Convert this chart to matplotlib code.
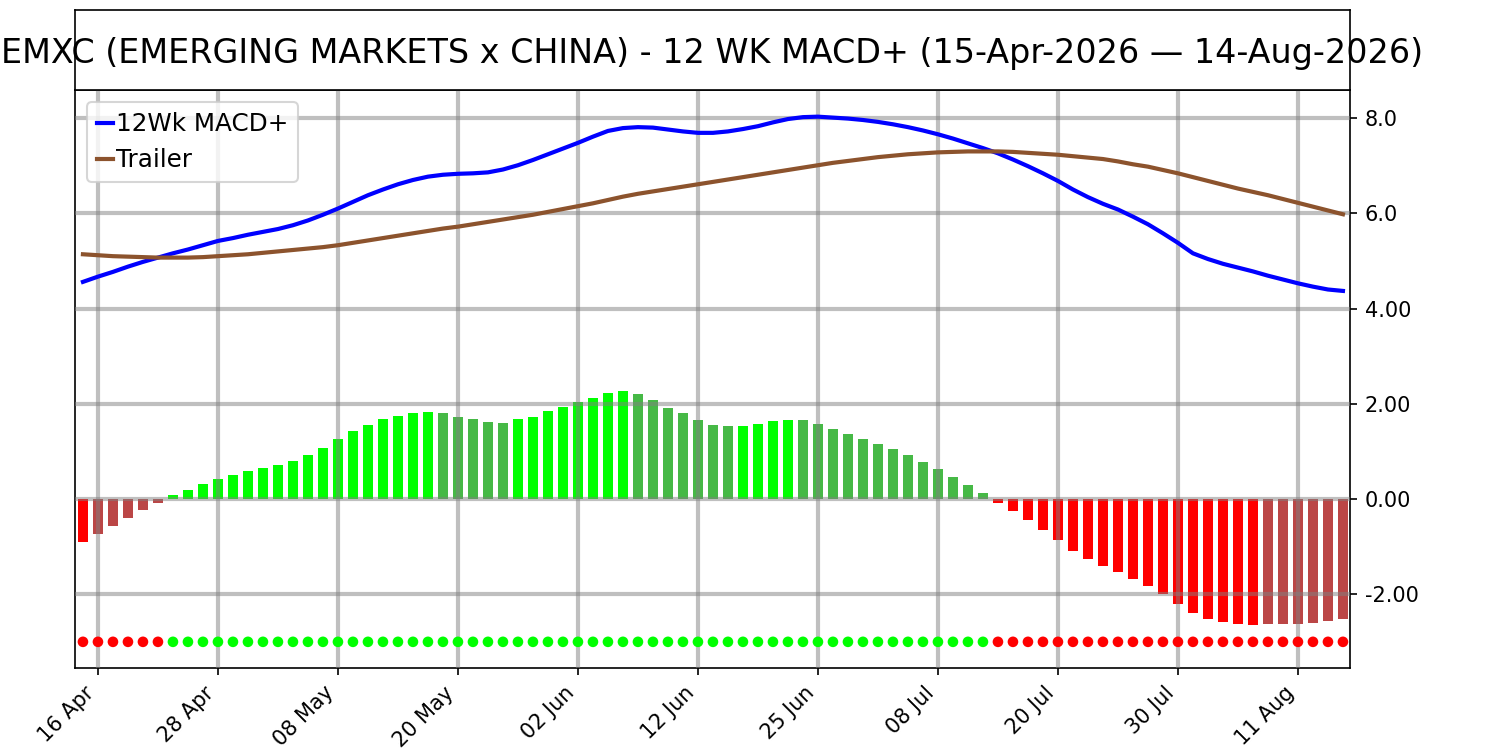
import matplotlib
matplotlib.use("Agg")
import matplotlib.pyplot as plt
import numpy as np

title = "EMXC (EMERGING MARKETS x CHINA) - 12 WK MACD+ (15-Apr-2026 \u2014 14-Aug-2026)"

macd = [4.56, 4.67, 4.77, 4.88, 4.98, 5.07, 5.16, 5.24, 5.33, 5.42,
        5.48, 5.55, 5.61, 5.67, 5.75, 5.85, 5.97, 6.10, 6.24, 6.38,
        6.50, 6.61, 6.70, 6.77, 6.81, 6.83, 6.84, 6.86, 6.92, 7.01,
        7.12, 7.24, 7.36, 7.48, 7.61, 7.73, 7.79, 7.81, 7.80, 7.76,
        7.72, 7.69, 7.69, 7.72, 7.77, 7.83, 7.91, 7.98, 8.02, 8.03,
        8.01, 7.99, 7.96, 7.92, 7.87, 7.81, 7.74, 7.66, 7.57, 7.47,
        7.37, 7.26, 7.13, 6.99, 6.84, 6.68, 6.50, 6.34, 6.20, 6.08,
        5.93, 5.77, 5.58, 5.38, 5.16, 5.04, 4.94, 4.86, 4.78, 4.69,
        4.61, 4.53, 4.46, 4.40, 4.37]

trailer = [5.14, 5.12, 5.10, 5.09, 5.08, 5.07, 5.07, 5.07, 5.08, 5.10,
           5.12, 5.14, 5.17, 5.20, 5.23, 5.26, 5.29, 5.33, 5.38, 5.43,
           5.48, 5.53, 5.58, 5.63, 5.68, 5.72, 5.77, 5.82, 5.87, 5.92,
           5.97, 6.03, 6.09, 6.15, 6.21, 6.28, 6.35, 6.41, 6.46, 6.51,
           6.56, 6.61, 6.66, 6.71, 6.76, 6.81, 6.86, 6.91, 6.96, 7.01,
           7.06, 7.10, 7.14, 7.18, 7.21, 7.24, 7.26, 7.28, 7.29, 7.30,
           7.30, 7.30, 7.29, 7.27, 7.25, 7.23, 7.20, 7.17, 7.14, 7.09,
           7.03, 6.98, 6.91, 6.84, 6.76, 6.68, 6.60, 6.52, 6.45, 6.38,
           6.30, 6.22, 6.14, 6.06, 5.98]

hist = [-0.90, -0.73, -0.56, -0.39, -0.23, -0.08, 0.085, 0.19, 0.32, 0.42,
        0.51, 0.59, 0.65, 0.72, 0.80, 0.93, 1.08, 1.25, 1.42, 1.56,
        1.67, 1.75, 1.80, 1.82, 1.80, 1.73, 1.67, 1.61, 1.60, 1.67,
        1.73, 1.84, 1.94, 2.03, 2.13, 2.22, 2.26, 2.20, 2.07, 1.92,
        1.80, 1.65, 1.56, 1.53, 1.54, 1.58, 1.63, 1.655, 1.65, 1.58,
        1.48, 1.37, 1.27, 1.16, 1.06, 0.93, 0.78, 0.63, 0.46, 0.30,
        0.13, -0.08, -0.25, -0.44, -0.65, -0.86, -1.09, -1.26, -1.41, -1.54,
        -1.68, -1.83, -2.00, -2.20, -2.40, -2.53, -2.59, -2.62, -2.64, -2.635,
        -2.63, -2.625, -2.60, -2.57, -2.51]

x_tick_labels = ["16 Apr", "28 Apr", "08 May", "20 May", "02 Jun", "12 Jun",
                 "25 Jun", "08 Jul", "20 Jul", "30 Jul", "11 Aug"]
y_ticks = [-2, 0, 2, 4, 6, 8]
y_tick_labels = ["-2.00", "0.00", "2.00", "4.00", "6.0", "8.0"]
signal_level = -3.0

n = len(hist)
x = np.arange(n)

# bar colours: bright when moving away from zero, dark when moving toward zero
bar_colors = []
for i, h in enumerate(hist):
    prev = hist[i - 1] if i > 0 else None
    if h >= 0:
        bar_colors.append("#00ff00" if (prev is None or h >= prev) else "#46b946")
    else:
        bar_colors.append("#ff0000" if (prev is None or h <= prev) else "#bb4646")
dot_colors = ["#00ff00" if h > 0 else "#ff0000" for h in hist]

fig = plt.figure(figsize=(10, 5), dpi=150)
ax = fig.add_axes([0.05, 0.1093, 0.85, 0.7707])
tax = fig.add_axes([0.05, 0.88, 0.85, 0.1067])

ax.bar(x, hist, width=0.7, color=bar_colors, zorder=2)
ax.plot(x, macd, color="#0000ff", lw=2, label="12Wk MACD+", zorder=3)
ax.plot(x, trailer, color="#8c532d", lw=2, label="Trailer", zorder=3)
ax.scatter(x, [signal_level] * n, c=dot_colors, s=26, zorder=3, linewidths=0)

ax.set_xlim(-0.53, 84.47)
ax.set_ylim(-3.55, 8.59)
ax.set_xticks(np.arange(1, n, 8)[:len(x_tick_labels)])
ax.set_xticklabels(x_tick_labels, rotation=45, ha="right", fontsize=10)
ax.yaxis.tick_right()
ax.set_yticks(y_ticks)
ax.set_yticklabels(y_tick_labels, fontsize=10)
ax.set_axisbelow(False)
ax.grid(True, color="gray", alpha=0.5, lw=2)

leg = ax.legend(loc="upper left", fontsize=11.8, handlelength=0.65,
                handletextpad=0.1)

tax.set_xticks([])
tax.set_yticks([])
tax.text(0.5, 0.46, title, ha="center", va="center", fontsize=16.0,
         transform=tax.transAxes, clip_on=False)

fig.savefig("out.png", dpi=150)
